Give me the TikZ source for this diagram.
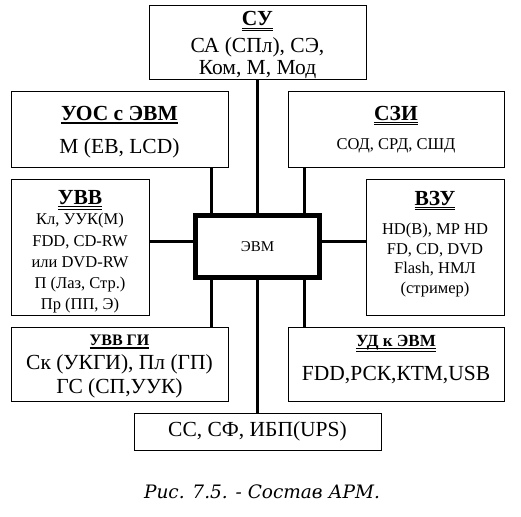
\documentclass[tikz,border=0pt]{standalone}
\usepackage{fontspec}
\setmainfont{Liberation Serif}
\newfontfamily\capfont{DejaVu Serif}
\usetikzlibrary{backgrounds}

\tikzset{
  blok/.style={draw, line width=1pt, fill=white, inner sep=0pt, align=center,
    font=\fontsize{21.5}{23}\selectfont},
  wire/.style={line width=3pt},
}
% заголовки с подчёркиванием
\newsavebox\ttlbox
\newcommand{\ttl}[1]{\sbox\ttlbox{\textbf{#1}}\leavevmode
  \rlap{\usebox\ttlbox}\rlap{\rule[-2.5pt]{\wd\ttlbox}{0.9pt}}%
  \rule[-5pt]{\wd\ttlbox}{0.9pt}}
\newcommand{\ttls}[1]{\sbox\ttlbox{\textbf{#1}}\leavevmode
  \rlap{\usebox\ttlbox}\rule[-3.5pt]{\wd\ttlbox}{1.5pt}}
% подпорки по высоте и глубине
\newcommand{\up}[1]{\rule{0pt}{#1}}
\newcommand{\dn}[1]{\rule[-#1]{0pt}{#1}}

\begin{document}
\begin{tikzpicture}[x=1pt, y=-1pt]
\useasboundingbox (0,0) rectangle (521,516);

% Блоки
\node[blok, minimum width=217pt, minimum height=74pt] (su) at (257.5,43)
  {\up{19pt}\ttl{СУ}\\[4pt] СА (СПл), СЭ,\\[-1pt] Ком, М, Мод};
\node[blok, minimum width=217pt, minimum height=75pt] (uos) at (119.5,129.5)
  {\up{19.5pt}\ttls{УОС с ЭВМ}\\[10pt] М (ЕВ, LCD)};
\node[blok, minimum width=216pt, minimum height=75pt] (szi) at (396,129.5)
  {\ttl{СЗИ}\\[6pt] {\fontsize{16.5}{18}\selectfont СОД, СРД, СШД}};
\node[blok, minimum width=138pt, minimum height=136pt,
  font=\fontsize{16.5}{21.3}\selectfont] (uvv) at (80,247)
  {{\fontsize{21.5}{23}\selectfont\up{24pt}\ttl{УВВ}}\\[-1pt] Кл, УУК(М)\\ FDD, CD-RW\\
   или DVD-RW\\ П (Лаз, Стр.)\\ Пр (ПП, Э)};
\node[blok, minimum width=124pt, minimum height=62pt, line width=5pt,
  font=\fontsize{15}{17}\selectfont] (evm) at (257.5,246.5) {ЭВМ};
\node[blok, minimum width=138pt, minimum height=136pt,
  font=\fontsize{16.5}{19.5}\selectfont] (vzu) at (435,247)
  {{\fontsize{21.5}{23}\selectfont\ttl{ВЗУ}}\\[10pt] HD(B), MP HD\\ FD, CD, DVD\\
   Flash, НМЛ\\ (стример)\dn{9.5pt}};
\node[blok, minimum width=217pt, minimum height=74pt,
  font=\fontsize{21.5}{23.5}\selectfont] (uvvgi) at (119.5,364)
  {{\fontsize{16}{17}\selectfont\up{15pt}\ttls{УВВ ГИ}}\\[1pt] Ск (УКГИ), Пл (ГП)\\ ГС (СП,УУК)};
\node[blok, minimum width=216pt, minimum height=74pt] (ud) at (396,364)
  {{\fontsize{17}{18}\selectfont\ttl{УД к ЭВМ}}\\[11pt] FDD,РСК,КТМ,USB\dn{12pt}};
\node[blok, minimum width=247pt, minimum height=37pt] (ups) at (257.5,431.5)
  {СС, СФ, ИБП(UPS)};

% Подпись
\node[font=\capfont\itshape\fontsize{18.5}{21}\selectfont] (cap) at (262,492)
  {Рис. 7.5. - Состав АРМ.};

% Связи
\begin{scope}[on background layer]
\draw[wire] (su) -- (ups);
\draw[wire] ([xshift=-17pt]uos.south east) -- ([xshift=-17pt]uvvgi.north east);
\draw[wire] ([xshift=17pt]szi.south west) -- ([xshift=17pt]ud.north west);
\draw[wire] ([yshift=6pt]uvv.east) -- ([yshift=6pt]uvv.east -| evm.west);
\draw[wire] ([yshift=6pt]vzu.west) -- ([yshift=6pt]vzu.west -| evm.east);
\end{scope}

\end{tikzpicture}
\end{document}
